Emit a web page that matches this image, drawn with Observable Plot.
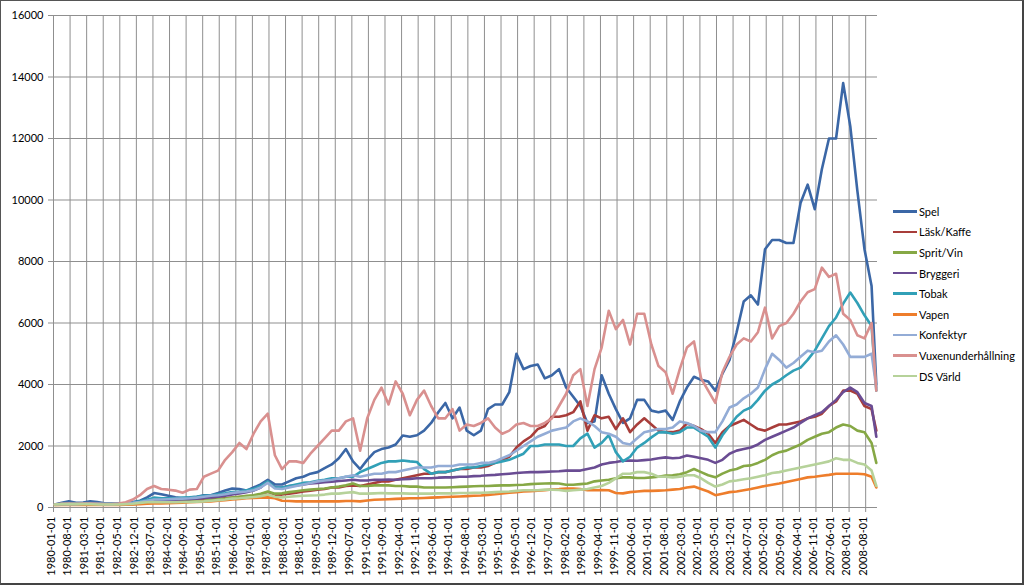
<!DOCTYPE html>
<html><head><meta charset="utf-8">
<script src="https://cdn.jsdelivr.net/npm/d3@7"></script>
<script src="https://cdn.jsdelivr.net/npm/@observablehq/plot@0.6"></script>
<style>
html,body{margin:0;padding:0;background:#fff;}
#wrap{position:relative;width:1024px;height:585px;overflow:hidden;font-family:Lato,"Open Sans",sans-serif;background:#fff;}
#chart{position:absolute;left:0;top:0;}
#frame{position:absolute;left:0;top:0;width:1024px;height:585px;box-sizing:border-box;border:1px solid #555;border-bottom:2px solid #444;border-right:2px solid #444;pointer-events:none;}
#legend{position:absolute;left:893px;top:201px;}
.item{display:flex;align-items:center;height:20.6px;font-size:11px;color:#000;white-space:nowrap;}
.sw{display:inline-block;width:24px;height:2.5px;margin-right:2px;}
</style></head><body>
<div id="wrap"><div id="chart"></div><div id="legend"></div><div id="frame"></div></div>
<script>
const dates = [
"1980-01-01","1980-04-01","1980-07-01","1980-10-01","1981-01-01","1981-04-01","1981-07-01","1981-10-01",
"1982-01-01","1982-04-01","1982-07-01","1982-10-01","1983-01-01","1983-04-01","1983-07-01","1983-10-01",
"1984-01-01","1984-04-01","1984-07-01","1984-10-01","1985-01-01","1985-04-01","1985-07-01","1985-10-01",
"1986-01-01","1986-04-01","1986-07-01","1986-10-01","1987-01-01","1987-04-01","1987-07-01","1987-10-01",
"1988-01-01","1988-04-01","1988-07-01","1988-10-01","1989-01-01","1989-04-01","1989-07-01","1989-10-01",
"1990-01-01","1990-04-01","1990-07-01","1990-10-01","1991-01-01","1991-04-01","1991-07-01","1991-10-01",
"1992-01-01","1992-04-01","1992-07-01","1992-10-01","1993-01-01","1993-04-01","1993-07-01","1993-10-01",
"1994-01-01","1994-04-01","1994-07-01","1994-10-01","1995-01-01","1995-04-01","1995-07-01","1995-10-01",
"1996-01-01","1996-04-01","1996-07-01","1996-10-01","1997-01-01","1997-04-01","1997-07-01","1997-10-01",
"1998-01-01","1998-04-01","1998-07-01","1998-10-01","1999-01-01","1999-04-01","1999-07-01","1999-10-01",
"2000-01-01","2000-04-01","2000-07-01","2000-10-01","2001-01-01","2001-04-01","2001-07-01","2001-10-01",
"2002-01-01","2002-04-01","2002-07-01","2002-10-01","2003-01-01","2003-04-01","2003-07-01","2003-10-01",
"2004-01-01","2004-04-01","2004-07-01","2004-10-01","2005-01-01","2005-04-01","2005-07-01","2005-10-01",
"2006-01-01","2006-04-01","2006-07-01","2006-10-01","2007-01-01","2007-04-01","2007-07-01","2007-10-01",
"2008-01-01","2008-04-01","2008-07-01","2008-10-01","2008-12-01"];

const spel = [100,150,200,150, 160,200,180,140, 130,130,140,180, 220,330,470,430, 380,330,300,320,
350,400,400,470, 550,620,600,550, 650,750,900,750, 750,850,950,1000, 1100,1150,1280,1400,
1600,1900,1500,1250, 1550,1800,1900,1950, 2050,2340,2300,2350, 2500,2750,3100,3400, 2900,3250,2500,2350,
2500,3200,3350,3350, 3750,5000,4500,4600, 4650,4200,4300,4500, 3900,3600,3300,2750, 2800,4300,3700,3200,
2750,2900,3500,3500, 3150,3100,3150,2850, 3450,3900,4250,4150, 4100,3800,4350,4800, 5700,6700,6900,6600,
8400,8700,8700,8600, 8600,9900,10500,9700, 11000,12000,12000,13800, 12400,10300,8400,7200, 4000];

const laskKaffe = [90,100,100,100, 110,110,110,100, 100,110,110,130, 150,180,200,200, 200,210,220,220,
240,250,260,280, 300,320,340,360, 380,420,500,420, 420,450,480,520, 550,580,600,650,
650,700,720,700, 750,800,850,850, 900,950,1000,1050, 1100,1100,1150,1150, 1200,1250,1250,1300,
1300,1350,1450,1550, 1650,1950,2150,2300, 2550,2650,2950,2950, 3000,3100,3450,2500, 3000,2900,2950,2550,
2900,2450,2700,2900, 2700,2500,2450,2450, 2500,2730,2650,2550, 2400,2100,2450,2650, 2750,2850,2700,2550,
2500,2600,2700,2700, 2750,2800,2900,2950, 3050,3300,3450,3800, 3800,3700,3300,3200, 2500];

const spritVin = [80,90,90,90, 90,90,90,90, 90,100,100,110, 130,150,170,170, 180,190,200,210,
220,230,250,270, 290,320,350,380, 400,450,520,450, 460,500,530,560, 580,600,620,650,
680,720,780,700, 700,720,720,720, 700,700,680,680, 650,650,650,650, 660,670,680,690,
700,700,710,720, 720,730,740,760, 770,780,790,780, 740,740,760,780, 850,880,900,950,
980,980,960,960, 980,1000,1040,1050, 1080,1150,1250,1150, 1050,980,1100,1200, 1250,1350,1370,1450,
1550,1700,1800,1850, 1950,2050,2200,2300, 2400,2450,2600,2700, 2650,2500,2450,2100, 1450];

const bryggeri = [100,110,110,110, 120,120,120,110, 110,120,130,150, 180,200,230,230, 240,250,260,270,
290,310,330,350, 380,420,460,500, 550,650,850,650, 650,700,720,750, 780,800,820,840,
860,880,900,880, 880,900,900,910, 900,920,930,950, 950,950,970,980, 980,1000,1000,1020,
1030,1050,1060,1080, 1100,1120,1140,1150, 1150,1160,1170,1180, 1200,1200,1200,1250, 1300,1400,1450,1480,
1520,1530,1520,1540, 1560,1600,1630,1600, 1620,1690,1650,1600, 1550,1450,1550,1750, 1850,1900,1950,2050,
2200,2300,2400,2500, 2600,2750,2900,3000, 3100,3300,3500,3750, 3900,3750,3400,3300, 2300];

const tobak = [100,110,120,120, 130,130,130,120, 120,130,140,160, 200,250,320,300, 300,300,320,330,
350,380,400,430, 460,500,520,560, 600,700,850,650, 650,700,750,800, 820,870,900,950,
950,1000,1000,1150, 1250,1350,1450,1500, 1500,1530,1500,1480, 1250,1100,1150,1150, 1200,1250,1300,1300,
1350,1400,1450,1500, 1550,1650,1750,2000, 2000,2050,2050,2050, 2000,2000,2250,2400, 1950,2100,2350,1800,
1500,1650,1950,2100, 2280,2440,2450,2400, 2450,2600,2600,2450, 2300,1950,2350,2650, 2950,3150,3250,3500,
3800,4000,4130,4300, 4450,4550,4800,5100, 5500,5900,6180,6630, 6990,6650,6250,5900, 3800];

const vapen = [80,80,80,80, 80,80,80,80, 80,80,90,100, 110,120,130,130, 140,150,160,170,
180,190,200,220, 240,260,280,300, 310,320,330,300, 220,210,200,200, 200,200,200,200,
200,210,210,200, 230,250,260,270, 280,290,300,300, 310,320,330,340, 350,360,370,380,
390,410,430,460, 480,500,520,530, 550,560,590,600, 620,620,600,560, 560,570,560,470,
460,500,520,540, 540,550,560,580, 600,650,680,600, 520,400,450,500, 520,560,600,650,
700,740,780,830, 880,930,980,1000, 1030,1060,1100,1100, 1100,1100,1080,1000, 650];

const konfektyr = [100,110,110,110, 120,120,120,110, 110,120,130,150, 180,220,260,260, 270,280,290,300,
320,350,380,400, 430,470,500,520, 560,650,800,620, 600,650,700,750, 800,850,880,900,
950,1000,1050,1000, 1050,1100,1100,1150, 1150,1200,1250,1300, 1300,1300,1350,1350, 1350,1400,1400,1400,
1450,1450,1500,1600, 1700,1850,2000,2150, 2300,2400,2500,2550, 2600,2800,2900,2800, 2650,2450,2400,2300,
2100,2050,2250,2450, 2500,2550,2550,2600, 2800,2750,2650,2500, 2450,2450,2800,3250, 3350,3550,3700,3900,
4500,5000,4800,4550, 4700,4900,5100,5050, 5100,5400,5600,5300, 4900,4900,4900,5000, 3900];

const vuxenunderhallning = [100,120,130,120, 130,130,120,110, 110,130,170,260, 400,600,700,600, 580,550,480,580,
600,1000,1100,1200, 1550,1800,2100,1900, 2400,2800,3050,1700, 1250,1500,1500,1450, 1750,2000,2250,2500,
2500,2800,2900,1850, 2900,3500,3900,3350, 4100,3700,3000,3500, 3800,3300,2900,2900, 3200,2500,2700,2650,
2750,2900,2600,2400, 2500,2700,2750,2650, 2650,2750,2900,3300, 3700,4300,4500,3300, 4500,5200,6400,5800,
6100,5300,6300,6300, 5300,4600,4400,3700, 4500,5200,5400,4200, 3800,3400,4400,4900, 5300,5500,5400,5700,
6500,5500,5900,6000, 6300,6700,7000,7100, 7800,7500,7600,6300, 6100,5600,5500,6000, 3800];

const dsVarld = [100,110,110,110, 110,110,100,100, 100,100,110,120, 150,170,180,170, 170,170,180,180,
190,200,220,240, 260,290,300,320, 340,370,420,350, 330,350,370,380, 390,400,420,450,
450,480,500,450, 450,460,470,460, 460,460,450,450, 450,450,460,460, 460,470,470,480,
480,490,500,510, 520,540,560,560, 560,580,580,570, 540,560,580,600, 650,700,800,950,
1100,1100,1150,1150, 1100,1000,1000,980, 1000,1050,1050,950, 800,680,750,850, 880,920,950,1000,
1050,1120,1150,1200, 1250,1300,1350,1400, 1450,1500,1600,1550, 1550,1450,1400,1200, 700];

const seriesNames = ["Spel","Läsk/Kaffe","Sprit/Vin","Bryggeri","Tobak","Vapen","Konfektyr","Vuxenunderhållning","DS Värld"];
const seriesColors = ["#3B67A6","#A83D3A","#86A845","#6A4C93","#31A0B7","#EE7D2B","#93ACD6","#D9908F","#B6D29A"];
const xTickLabels = ["1980-01-01","1980-08-01","1981-03-01","1981-10-01","1982-05-01","1982-12-01","1983-07-01",
"1984-02-01","1984-09-01","1985-04-01","1985-11-01","1986-06-01","1987-01-01","1987-08-01","1988-03-01",
"1988-10-01","1989-05-01","1989-12-01","1990-07-01","1991-02-01","1991-09-01","1992-04-01","1992-11-01",
"1993-06-01","1994-01-01","1994-08-01","1995-03-01","1995-10-01","1996-05-01","1996-12-01","1997-07-01",
"1998-02-01","1998-09-01","1999-04-01","1999-11-01","2000-06-01","2001-01-01","2001-08-01","2002-03-01",
"2002-10-01","2003-05-01","2003-12-01","2004-07-01","2005-02-01","2005-09-01","2006-04-01","2006-11-01",
"2007-06-01","2008-01-01","2008-08-01"];
const yTicks = [0,2000,4000,6000,8000,10000,12000,14000,16000];

const seriesValues = [spel, laskKaffe, spritVin, bryggeri, tobak, vapen, konfektyr, vuxenunderhallning, dsVarld];
const monthIndex = s => (+s.slice(0,4) - 1980) * 12 + (+s.slice(5,7) - 1);
const rows = [];
seriesNames.forEach((name, k) => seriesValues[k].forEach((v, i) => rows.push({series: name, m: monthIndex(dates[i]), v})));
const tickIdx = xTickLabels.map(monthIndex);
const gridPos = tickIdx.map(i => i - 0.5);
const gridColor = "#8f8f8f";

const chart = Plot.plot({
  width: 1024, height: 585,
  marginLeft: 53, marginRight: 147, marginTop: 15, marginBottom: 78,
  style: {fontFamily: "Lato, 'Open Sans', sans-serif", fontSize: "11px", background: "transparent", color: "#000"},
  x: {type: "linear", domain: [-0.5, 347.5]},
  y: {domain: [0, 16000]},
  color: {domain: seriesNames, range: seriesColors},
  marks: [
    Plot.gridX(gridPos, {stroke: gridColor, strokeOpacity: 1, strokeWidth: 1}),
    Plot.gridY(yTicks, {stroke: gridColor, strokeOpacity: 1, strokeWidth: 1}),
    Plot.axisY(yTicks, {tickSize: 5, tickPadding: 5, tickFormat: d => String(d), label: null, stroke: gridColor, fontSize: 11}),
    Plot.axisX(gridPos, {tickSize: 5, tickFormat: () => "", label: null, stroke: gridColor}),
    Plot.text(tickIdx, {x: d => d, frameAnchor: "bottom", text: (d, i) => xTickLabels[i], rotate: -90, textAnchor: "end", dy: 9, fontSize: 11, fill: "#000"}),
    Plot.ruleX([-0.5], {stroke: gridColor}),
    Plot.ruleY([0], {stroke: gridColor}),
    Plot.line(rows, {x: "m", y: "v", z: "series", stroke: "series", strokeWidth: 2.6, strokeLinejoin: "round", strokeLinecap: "round"})
  ]
});
document.getElementById("chart").appendChild(chart);

const legend = document.getElementById("legend");
seriesNames.forEach((name, k) => {
  const item = document.createElement("div");
  item.className = "item";
  const sw = document.createElement("span");
  sw.className = "sw";
  sw.style.background = seriesColors[k];
  const label = document.createElement("span");
  label.textContent = name;
  item.appendChild(sw);
  item.appendChild(label);
  legend.appendChild(item);
});
</script>
</body></html>
